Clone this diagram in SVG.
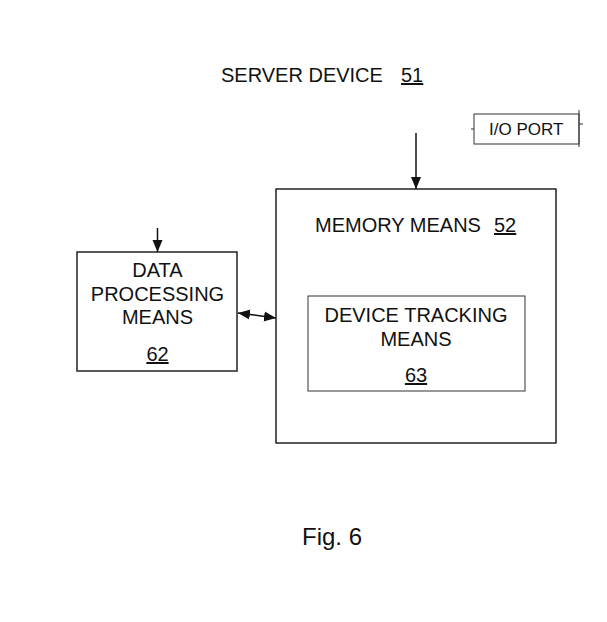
<svg xmlns="http://www.w3.org/2000/svg" width="607" height="622" viewBox="0 0 607 622">
<style>
text{font-family:"Liberation Sans",Arial,sans-serif;fill:#111;}
.box{fill:none;stroke:#222;stroke-width:1.5;}
.thin{fill:none;stroke:#333;stroke-width:1;}
.ln{stroke:#111;stroke-width:1.5;fill:none;}
.u{text-decoration:underline;}
</style>
<defs>
<marker id="ah" viewBox="0 0 12 12" refX="12" refY="6" markerWidth="12" markerHeight="12" markerUnits="userSpaceOnUse" orient="auto-start-reverse">
<path d="M0,1 L12,6 L0,11 Z" fill="#111"/>
</marker>
</defs>
<rect width="607" height="622" fill="#fff"/>
<g id="title">
<text x="221" y="82" font-size="20">SERVER DEVICE</text>
<text x="401" y="82" font-size="20" class="u">51</text>
</g>
<g id="io-port">
<rect class="thin" x="474" y="114" width="105" height="30"/>
<line class="thin" x1="579" y1="110" x2="579" y2="147"/>
<line class="thin" x1="471" y1="129" x2="474" y2="129"/>
<line class="thin" x1="579" y1="124" x2="583" y2="124"/>
<text x="489" y="135" font-size="17">I/O PORT</text>
</g>
<g id="memory-means">
<rect class="box" x="276" y="189" width="280" height="254"/>
<text x="315" y="232" font-size="20">MEMORY MEANS</text>
<text x="494" y="232" font-size="20" class="u">52</text>
</g>
<g id="device-tracking">
<rect class="thin" x="308" y="296" width="217" height="95"/>
<text x="416" y="322" font-size="20" text-anchor="middle">DEVICE TRACKING</text>
<text x="416" y="346" font-size="20" text-anchor="middle">MEANS</text>
<text x="416" y="382" font-size="20" text-anchor="middle" class="u">63</text>
</g>
<g id="data-processing">
<rect class="box" x="77" y="252" width="160" height="119"/>
<text x="157.5" y="277" font-size="20" text-anchor="middle">DATA</text>
<text x="157.5" y="301" font-size="20" text-anchor="middle">PROCESSING</text>
<text x="157.5" y="324" font-size="20" text-anchor="middle">MEANS</text>
<text x="157.5" y="361" font-size="20" text-anchor="middle" class="u">62</text>
</g>
<g id="fig">
<text x="332" y="545" font-size="24" text-anchor="middle">Fig. 6</text>
</g>
<g id="connectors">
<line class="ln" x1="416" y1="133" x2="416" y2="189" marker-end="url(#ah)"/>
<line class="ln" x1="157.5" y1="228" x2="157.5" y2="252" marker-end="url(#ah)"/>
<line class="ln" x1="238" y1="313" x2="276" y2="318" marker-start="url(#ah)" marker-end="url(#ah)"/>
</g>
</svg>
